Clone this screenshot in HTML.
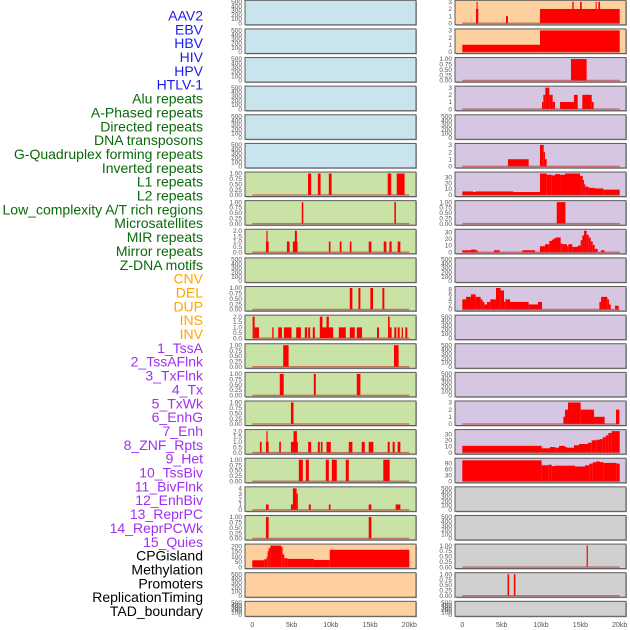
<!DOCTYPE html>
<html><head><meta charset="utf-8"><style>
body{margin:0;background:#fff;width:630px;height:630px;overflow:hidden}
svg{display:block}
text{font-family:"Liberation Sans",sans-serif}
</style></head><body>
<svg id="chart" width="630" height="630" viewBox="0 0 630 630" xmlns="http://www.w3.org/2000/svg"></svg>
<script>
const trackLabels=["AAV2","EBV","HBV","HIV","HPV","HTLV-1","Alu repeats","A-Phased repeats","Directed repeats","DNA transposons","G-Quadruplex forming repeats","Inverted repeats","L1 repeats","L2 repeats","Low_complexity A/T rich regions","Microsatellites","MIR repeats","Mirror repeats","Z-DNA motifs","CNV","DEL","DUP","INS","INV","1_TssA","2_TssAFlnk","3_TxFlnk","4_Tx","5_TxWk","6_EnhG","7_Enh","8_ZNF_Rpts","9_Het","10_TssBiv","11_BivFlnk","12_EnhBiv","13_ReprPC","14_ReprPCWk","15_Quies","CPGisland","Methylation","Promoters","ReplicationTiming","TAD_boundary"];
const labelColors=["#1c1cf0","#1c1cf0","#1c1cf0","#1c1cf0","#1c1cf0","#1c1cf0","#0a6a0a","#0a6a0a","#0a6a0a","#0a6a0a","#0a6a0a","#0a6a0a","#0a6a0a","#0a6a0a","#0a6a0a","#0a6a0a","#0a6a0a","#0a6a0a","#0a6a0a","#ffa500","#ffa500","#ffa500","#ffa500","#ffa500","#a030f0","#a030f0","#a030f0","#a030f0","#a030f0","#a030f0","#a030f0","#a030f0","#a030f0","#a030f0","#a030f0","#a030f0","#a030f0","#a030f0","#a030f0","#000","#000","#000","#000","#000"];
const xTickValues=[0,5,10,15,20];
const xTickLabels=["0","5kb","10kb","15kb","20kb"];
const leftBg=["b","b","b","b","b","b","g","g","g","g","g","g","g","g","g","g","g","g","g","o","o","o"];
const rightBg=["o","o","p","p","p","p","p","p","p","p","p","p","p","p","p","p","p","y","y","y","y","y"];
const leftHi=[500,500,500,500,500,500,1,1,2,500,1,2,1,1,1,2,1,4,1,205,500,500];
const rightHi=[3,3,1,3,500,3,36,1,32,500,8.5,500,500,500,3,35,108,500,500,1,1,500];
const seg_L=[];const seg_R=[];
seg_L[6]=[[7.1,7.5,1],[8.35,8.7,1],[9.75,10.1,1],[17.25,17.7,1],[18.4,19.4,1]];
seg_L[7]=[[6.3,6.5,1],[18.1,18.3,1]];
seg_L[8]=[[1.74,2.08,1],[1.8,1.95,2],[4.41,4.75,1],[5.17,5.76,1],[5.42,5.68,2],[9.75,9.96,1],[11.14,11.36,1],[12.42,12.63,1],[14.83,15.17,1],[16.74,17.08,1],[17.46,17.75,1],[18.52,18.86,1]];
seg_L[10]=[[12.42,12.75,1],[13.52,13.77,1],[15.04,15.38,1],[16.57,16.82,1]];
seg_L[11]=[[0.04,0.3,2],[0.3,0.85,1],[2.54,2.71,1],[3.3,3.77,1],[4.03,5.0,1],[5.59,6.19,1],[6.69,6.99,1],[7.12,7.37,1],[7.71,7.97,1],[8.6,8.94,2],[8.94,10.3,1],[9.45,9.75,2],[11.02,11.91,1],[12.42,13.05,1],[13.31,13.98,1],[15.89,16.14,1],[17.5,17.75,1],[17.29,17.5,2],[18.09,18.35,1],[18.52,18.77,1],[19.03,19.19,1],[19.49,19.75,1]];
seg_L[12]=[[3.94,4.62,1],[18.05,18.64,1]];
seg_L[13]=[[3.5,4.0,1],[7.84,8.09,1],[13.31,13.77,1]];
seg_L[14]=[[4.92,5.25,1]];
seg_L[15]=[[0.97,1.19,1],[1.74,2.08,1],[1.8,1.95,2],[3.43,3.64,1],[4.92,5.8,1],[5.25,5.68,2],[7.12,7.5,1],[8.35,8.6,1],[8.73,8.94,1],[9.45,10.0,1],[12.29,12.75,1],[13.94,14.32,1],[14.83,15.42,1],[17.25,17.5,1],[17.88,18.14,1],[18.52,18.86,1]];
seg_L[16]=[[5.93,6.44,1],[6.82,7.2,1],[9.36,9.75,1],[10.13,10.76,1],[11.91,12.29,1],[16.69,17.5,1]];
seg_L[17]=[[1.74,2.08,1],[4.92,5.17,1],[5.17,5.64,4],[5.64,5.8,3],[7.2,7.46,1],[9.75,9.96,1],[14.83,15.17,1],[18.26,18.86,1]];
seg_L[18]=[[1.74,2.08,1],[14.83,15.17,1]];
seg_L[19]=[[0,1.53,65],[1.53,1.82,75],[1.82,1.95,100],[1.95,2.08,150],[2.08,2.3,180],[2.3,3.7,205],[3.7,3.86,190],[3.86,4.07,120],[4.07,4.5,85],[4.5,7.84,78],[7.84,9.87,68],[9.87,20,165]];
seg_R[0]=[[1.74,2.03,2],[1.82,1.95,3],[5.55,5.8,1],[9.87,10.0,1],[9.87,20,2],[13.98,14.15,3],[14.96,15.17,3],[16.95,17.08,3],[17.29,17.5,3]];
seg_R[1]=[[0,9.87,1],[9.87,20,3]];
seg_R[2]=[[13.81,15.8,1]];
seg_R[3]=[[10.13,10.3,1],[10.3,10.55,2],[10.55,11.06,3],[11.06,11.48,2],[11.48,11.78,1],[12.42,14.19,1],[14.19,14.66,2],[15.25,16.44,2],[16.44,16.69,1]];
seg_R[5]=[[5.8,8.43,1],[9.87,10.34,3],[10.34,10.51,2],[10.51,10.72,1]];
seg_R[6]=[[0,1.36,6],[1.36,1.69,5],[1.69,6.48,6],[6.48,9.87,5],[9.87,10.72,36],[10.72,11.36,34],[11.36,11.78,33],[11.78,12.42,35],[12.42,13.05,34],[13.05,14.96,36],[14.96,15.3,32],[15.3,15.47,25],[15.47,15.64,18],[15.64,16.06,14],[16.06,16.86,12],[16.86,17.92,11],[17.92,20,9]];
seg_R[7]=[[12.0,13.1,1]];
seg_R[8]=[[0,1.1,3],[1.1,1.69,4],[1.69,1.95,3],[4.03,4.75,3],[7.63,9.24,3],[9.87,10.51,9],[10.51,11.06,12],[11.06,11.4,17],[11.4,11.65,19],[11.65,11.91,21],[11.91,12.5,22],[12.5,12.75,13],[12.75,13.31,12],[13.31,13.47,9],[13.47,13.98,12],[13.98,14.7,8],[14.7,15.04,10],[15.04,15.25,18],[15.25,15.47,25],[15.47,15.8,32],[15.8,16.06,26],[16.06,16.31,22],[16.31,16.57,16],[16.57,16.82,11],[16.82,17.2,5],[17.63,18.05,3]];
seg_R[10]=[[0,0.47,4],[0.47,1.1,5],[1.1,1.69,6],[1.69,2.33,5],[2.33,2.58,4],[2.58,2.8,3],[2.8,3.14,2],[3.14,3.56,3],[3.56,4.28,4],[4.28,4.87,8.5],[4.87,5.3,7.5],[5.3,5.47,3],[5.47,6.06,4],[6.06,8.43,3],[8.43,9.62,2],[9.62,10.13,3],[17.42,17.63,3],[17.63,18.43,5],[18.43,18.64,4],[18.64,18.86,2],[19.41,19.87,1.5]];
seg_R[14]=[[12.84,13.05,1],[13.05,13.43,2],[13.43,15.04,3],[15.04,16.74,2],[16.74,18.09,1],[19.53,19.96,2]];
seg_R[15]=[[0,10.08,11],[10.08,11.14,7],[11.14,11.82,9],[11.82,12.29,8],[12.29,13.05,11],[13.05,13.31,9],[13.31,14.19,8],[14.19,14.83,12],[14.83,15.97,14],[15.97,16.44,16],[16.44,17.08,20],[17.08,17.5,21],[17.5,17.84,22],[17.84,18.22,25],[18.22,18.56,28],[18.56,18.98,32],[18.98,20,35]];
seg_R[16]=[[0,10.08,105],[10.08,10.93,80],[10.93,11.36,83],[11.36,11.78,76],[11.78,14.32,78],[14.32,15.59,74],[15.59,16.14,80],[16.14,16.57,88],[16.57,16.99,95],[16.99,17.5,99],[17.5,17.92,96],[17.92,19.62,92],[19.62,20,88]];
seg_R[19]=[[15.8,15.95,1]];
seg_R[20]=[[5.75,5.95,1],[6.55,6.75,1]];

const NS="http://www.w3.org/2000/svg";
const svg=document.getElementById('chart');
const bgMap={b:"#c9e4ec",g:"#c9e2a6",o:"#fecf9f",p:"#d6c6e1",y:"#d0d0d0"};
function mk(tag,attrs,parent){const e=document.createElementNS(NS,tag);for(const k in attrs)e.setAttribute(k,attrs[k]);(parent||svg).appendChild(e);return e;}
function ticksFor(hi){
  if(hi>=500)return [[0,"0"],[100,"100"],[200,"200"],[300,"300"],[400,"400"],[500,"500"]];
  if(hi===205)return [[0,"0"],[50,"50"],[100,"100"],[150,"150"],[200,"200"]];
  if(hi===1)return [[0,"0.00"],[0.25,"0.25"],[0.5,"0.50"],[0.75,"0.75"],[1,"1.00"]];
  if(hi===2)return [[0,"0.0"],[0.5,"0.5"],[1,"1.0"],[1.5,"1.5"],[2,"2.0"]];
  if(hi===3)return [[0,"0"],[1,"1"],[2,"2"],[3,"3"]];
  if(hi===4)return [[0,"0"],[1,"1"],[2,"2"],[3,"3"],[4,"4"]];
  if(hi===8.5)return [[0,"0"],[2,"2"],[4,"4"],[6,"6"],[8,"8"]];
  if(hi===108)return [[0,"0"],[30,"30"],[60,"60"],[90,"90"]];
  return [[0,"0"],[10,"10"],[20,"20"],[30,"30"]];
}
const labelPitch=(611-15.5)/(trackLabels.length-1);
trackLabels.forEach((t,i)=>{
  const e=mk('text',{x:203,y:(20.5+labelPitch*i).toFixed(1),'text-anchor':'end','font-size':'14',fill:labelColors[i]});
  
  
  e.textContent=t;
});
function drawColumn(side,bgs,his,segs,boxX,boxW,x0,sc){
  for(let i=0;i<22;i++){
    const top=0.3+28.62*i, h=(i===21?15:24.5);
    const g=mk('g',{});
    
    
    mk('rect',{x:boxX+1,y:top+1,width:boxW,height:h,fill:'#aaa'},g);
    mk('rect',{x:boxX,y:top,width:boxW,height:h,fill:bgMap[bgs[i]],stroke:'#5a5a5a','stroke-width':1},g);
    const hi=his[i];
    const yOf=v=>top+h-1.5-(v/hi)*(h-3);
    const xOf=kb=>x0+kb*sc;
    ticksFor(hi).forEach(([v,l])=>{
      const t=mk('text',{x:boxX-3,y:(yOf(v)+2.2).toFixed(1),'text-anchor':'end','font-size':'6.5',fill:'#555'},g);
      
      
      t.textContent=l;
    });
    const s=segs[i];
    if(s){
      s.forEach(([a,b,v])=>{
        const r=mk('rect',{x:xOf(a).toFixed(2),y:yOf(v).toFixed(2),width:Math.max(1,xOf(b)-xOf(a)).toFixed(2),height:(yOf(0)-yOf(v)).toFixed(2),fill:'#ff0000'},g);
        
        
      });
      const bl=mk('line',{x1:xOf(0),x2:xOf(20),y1:yOf(0),y2:yOf(0),stroke:'rgba(190,50,50,0.6)','stroke-width':1.5},g);
      
      
    }
  }
  xTickValues.forEach((v,k)=>{
    const t=mk('text',{x:(x0+v*sc).toFixed(1),y:627,'text-anchor':'middle','font-size':'7',fill:'#555'});
    
    
    t.textContent=xTickLabels[k];
  });
}
drawColumn('left',leftBg,leftHi,seg_L,245,171,252.3,7.85);
drawColumn('right',rightBg,rightHi,seg_R,455,171,462.3,7.87);
</script>
</body></html>
